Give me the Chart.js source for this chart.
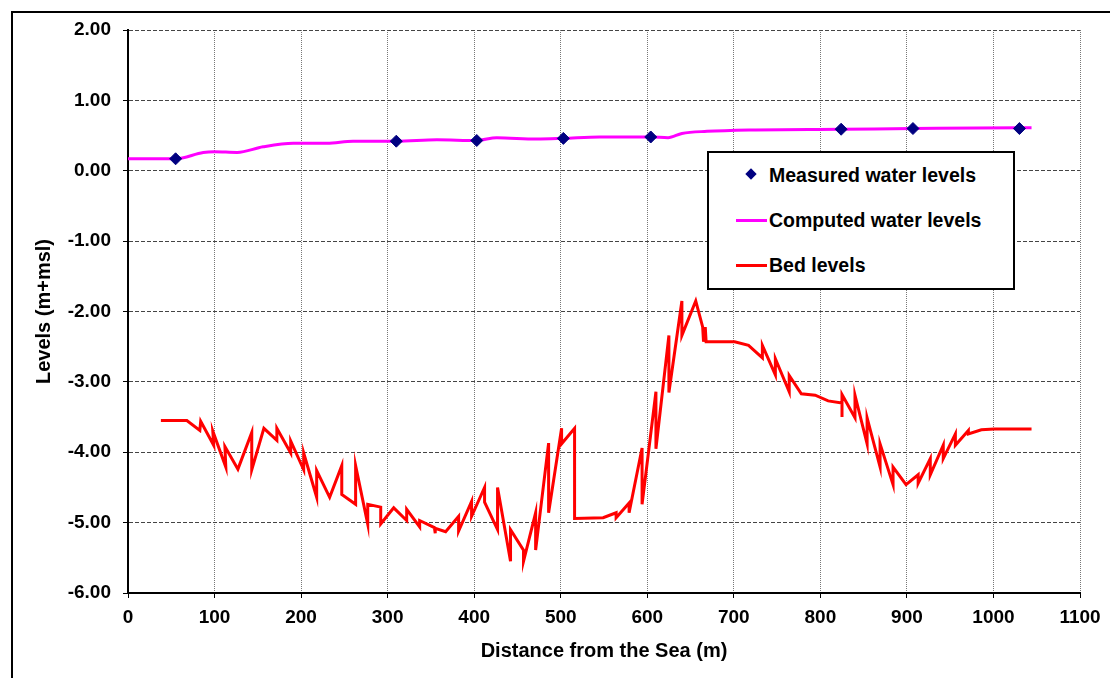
<!DOCTYPE html>
<html>
<head>
<meta charset="utf-8">
<script src="https://cdn.jsdelivr.net/npm/chart.js@4"></script>
<style>
  html, body { margin: 0; padding: 0; background: #fff; overflow: hidden; }
  #wrap { position: relative; width: 1110px; height: 678px; }
  #frame { position: absolute; left: 11px; top: 11px; width: 1200px; height: 800px;
           border-left: 2px solid #000; border-top: 2px solid #000; }
  #chart { position: absolute; left: 0; top: 0; }
  #legend { position: absolute; left: 707px; top: 151px; width: 304px; height: 135px;
            border: 2px solid #000; background: #fff;
            font: bold 19.5px "Liberation Sans", Arial, sans-serif; color: #000; }
  .item { position: absolute; left: 60px; height: 22px; line-height: 22px; white-space: nowrap; }
  .sample { position: absolute; left: -33px; top: 10px; width: 31px; height: 3px; }
  .diamond { position: absolute; left: -22px; top: 6px; width: 8px; height: 8px;
             background: #000080; transform: rotate(45deg); }
</style>
</head>
<body>
<div id="wrap">
  <div id="frame"></div>
  <canvas id="chart" width="1110" height="678"></canvas>
  <div id="legend">
    <div class="item" style="top:11px"><span class="diamond"></span>Measured water levels</div>
    <div class="item" style="top:56px"><span class="sample" style="background:#ff00ff"></span>Computed water levels</div>
    <div class="item" style="top:101px"><span class="sample" style="background:#ff0000"></span>Bed levels</div>
  </div>
</div>
<script>
// measured water levels
var measX = [55, 310, 403, 503, 604, 824, 907, 1030];
var measY = [0.17, 0.42, 0.43, 0.46, 0.48, 0.59, 0.60, 0.60];

// computed water levels
var compX = [0, 37, 55, 87, 100, 126, 156, 191, 230, 260, 310, 357, 403, 426, 472, 503, 545, 604, 624, 640, 669, 719, 824, 907, 1030, 1044];
var compY = [0.17, 0.17, 0.17, 0.26, 0.27, 0.26, 0.34, 0.39, 0.39, 0.42, 0.42, 0.44, 0.43, 0.47, 0.45, 0.46, 0.48, 0.48, 0.47, 0.53, 0.56, 0.58, 0.59, 0.60, 0.61, 0.61];

// bed levels
var bedX = [38, 68, 83, 84, 99, 98, 113, 112, 127, 143, 143, 157, 172, 172, 188, 188, 203, 203, 218, 218,
            233, 247, 247, 263, 263, 277, 277, 292, 292, 307, 322, 322, 337, 337, 354, 355, 355, 367, 382, 382,
            397, 397, 412, 412, 427, 427, 442, 442, 457, 457, 471, 471, 486, 486, 501, 501, 516, 516, 549, 564,
            564, 579, 579, 594, 594, 610, 610, 625, 625, 640, 640, 656, 664, 665, 667, 668, 687, 701, 717, 733,
            733, 748, 748, 764, 764, 778, 794, 809, 825, 825, 825, 840, 840, 854, 854, 869, 869, 884, 884, 899,
            913, 913, 927, 927, 942, 942, 956, 956, 971, 971, 986, 1001, 1044];
var bedY = [-3.55, -3.55, -3.69, -3.56, -3.90, -3.70, -4.21, -3.92, -4.24, -3.72, -4.25, -3.66, -3.83, -3.66, -4.01, -3.84, -4.25, -4.01, -4.64, -4.26,
            -4.64, -4.19, -4.60, -4.74, -4.19, -5.02, -4.74, -4.78, -5.02, -4.79, -4.97, -4.81, -5.06, -4.97, -5.07, -5.15, -5.08, -5.13, -4.91, -5.12,
            -4.70, -4.91, -4.50, -4.71, -5.10, -4.50, -5.55, -5.10, -5.39, -5.55, -4.86, -5.39, -3.87, -4.86, -3.66, -3.88, -3.66, -4.94, -4.93, -4.86,
            -4.93, -4.72, -4.86, -3.94, -4.74, -3.14, -3.95, -2.34, -3.15, -1.85, -2.34, -1.85, -2.22, -2.43, -2.22, -2.43, -2.43, -2.43, -2.48, -2.66,
            -2.48, -2.90, -2.67, -3.14, -2.91, -3.17, -3.19, -3.27, -3.30, -3.50, -3.18, -3.51, -3.19, -3.88, -3.51, -4.21, -3.88, -4.46, -4.21, -4.46,
            -4.32, -4.44, -4.09, -4.32, -3.90, -4.09, -3.74, -3.90, -3.69, -3.74, -3.68, -3.67, -3.67];

function pts(xs, ys) {
    return xs.map(function (x, i) { return { x: x, y: ys[i] }; });
}

var tickFont = { family: "'Liberation Sans', Arial, sans-serif", size: 19, weight: 'bold' };
var titleFont = { family: "'Liberation Sans', Arial, sans-serif", size: 20, weight: 'bold' };

new Chart(document.getElementById('chart').getContext('2d'), {
    type: 'scatter',
    data: {
        datasets: [{
            label: 'Measured water levels',
            data: pts(measX, measY),
            pointStyle: 'rectRot',
            pointRadius: 6,
            backgroundColor: '#000080',
            borderColor: '#000080',
            showLine: false
        }, {
            label: 'Computed water levels',
            data: pts(compX, compY),
            showLine: true,
            borderColor: '#ff00ff',
            borderWidth: 3,
            pointRadius: 0,
            cubicInterpolationMode: 'monotone'
        }, {
            label: 'Bed levels',
            data: pts(bedX, bedY),
            showLine: true,
            borderColor: '#ff0000',
            borderWidth: 3,
            pointRadius: 0,
            tension: 0
        }]
    },
    options: {
        responsive: false,
        animation: false,
        layout: { padding: { left: 0, right: 30, top: 30, bottom: 0 } },
        plugins: { legend: { display: false }, tooltip: { enabled: false } },
        scales: {
            x: {
                type: 'linear',
                min: 0, max: 1100,
                afterFit: function (s) { s.height = 85; },
                ticks: { stepSize: 100, color: '#000', font: tickFont, padding: 8, maxRotation: 0,
                         callback: function (v) { return String(v); } },
                grid: { color: '#777', tickColor: '#000', tickLength: 5, lineWidth: 1 },
                border: { color: '#000', width: 2, dash: [1, 1] },
                title: { display: true, text: 'Distance from the Sea (m)', color: '#000', font: titleFont,
                         padding: { top: 0, bottom: 15 } }
            },
            y: {
                min: -6, max: 2,
                afterFit: function (s) { s.width = 128; },
                ticks: { stepSize: 1, color: '#000', font: tickFont, padding: 12,
                         callback: function (v) { return v.toFixed(2); } },
                grid: { color: '#444', tickColor: '#000', tickLength: 5, lineWidth: 1 },
                border: { color: '#000', width: 2, dash: [4, 2] },
                title: { display: true, text: 'Levels (m+msl)', color: '#000', font: titleFont,
                         padding: { top: 32, bottom: 0 } }
            }
        }
    }
});
</script>
</body>
</html>
